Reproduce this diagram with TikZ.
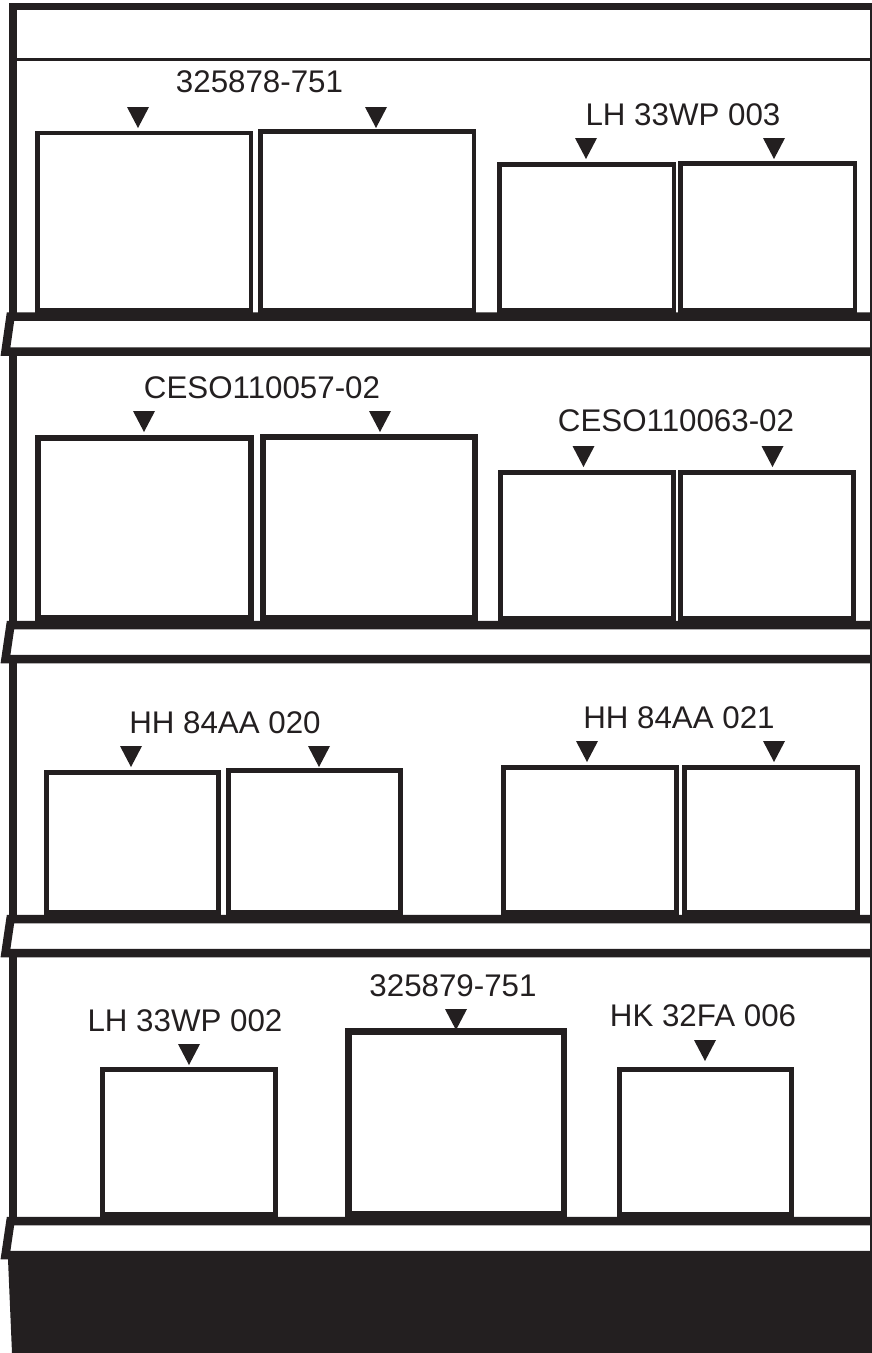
\documentclass[tikz,border=0pt]{standalone}
\usepackage{fontspec}
\setmainfont{Liberation Sans}
\definecolor{ink}{RGB}{35,31,32}
\tikzset{
  shelfline/.style={draw=ink, line width=8.5pt, line join=miter},
  frameline/.style={draw=ink, line width=8pt},
  boxline/.style={draw=ink},
  lbl/.style={anchor=base, inner sep=0pt, text=ink, font=\fontsize{31.3}{36}\selectfont},
  tri/.pic={\fill[ink] (-11,0) -- (11,0) -- (0,21) -- cycle;}
}
\newcommand{\shelfedge}[2]{\draw[shelfline] (872,#1) -- (10.5,#1) -- (5.5,#2) -- (872,#2);}
% box: x1, ytop (outer), x2, ybottom (outer), line width
\newcommand{\bx}[5]{\draw[boxline, line width=#5pt] ({#1+#5/2},{#2+#5/2}) rectangle ({#3-#5/2},{#4-#5/2});}
\begin{document}
\begin{tikzpicture}[x=1pt,y=-1pt]
\useasboundingbox (0,0) rectangle (872,1353);
\fill[white] (0,0) rectangle (872,1353);
% frame
\draw[ink, line width=7.5pt] (9,6.5) -- (872,6.5);
\draw[frameline] (13,3) -- (13,316.5);
\draw[frameline] (13,351.5) -- (13,625);
\draw[frameline] (13,659) -- (13,919);
\draw[frameline] (13,953) -- (13,1221);
\draw[ink, line width=2pt] (871,3) -- (871,1251);
\draw[ink, line width=3pt] (13,59.5) -- (872,59.5);
% shelves
\shelfedge{316.5}{351.5}
\shelfedge{625}{659}
\shelfedge{919}{953}
\shelfedge{1221}{1255}
% base
\fill[ink] (4,1251) -- (872,1251) -- (872,1353) -- (12,1353) -- (8,1259) -- cycle;

% shelf 1 boxes
\bx{35}{130.5}{253}{312.5}{4.5}
\bx{258}{129}{476}{312.5}{4.5}
\bx{497}{162}{676}{312.5}{4.5}
\bx{678}{161}{857}{312.5}{4.5}
% shelf 2 boxes
\bx{35}{435}{254}{621}{6}
\bx{260}{434}{478}{621}{6}
\bx{498}{470}{676}{621}{5}
\bx{678}{470}{856}{621}{5}
% shelf 3 boxes
\bx{44}{770}{221}{915}{5}
\bx{226}{768}{403}{915}{5}
\bx{501}{765}{679}{915}{5}
\bx{682}{765}{860}{915}{5}
% shelf 4 boxes
\bx{100}{1067}{278}{1217}{5}
\bx{345}{1028}{567}{1217}{6.5}
\bx{617}{1067}{794}{1217}{5}

% markers
\pic at (138,107) {tri};
\pic at (376,107) {tri};
\pic at (586,138) {tri};
\pic at (774,138) {tri};
\pic at (144,411) {tri};
\pic at (380,411) {tri};
\pic at (583.5,446) {tri};
\pic at (772.5,446) {tri};
\pic at (131,746) {tri};
\pic at (319,746) {tri};
\pic at (587,741) {tri};
\pic at (774,741) {tri};
\pic at (189,1044) {tri};
\pic at (456,1009) {tri};
\pic at (705,1040) {tri};

% labels
\node[lbl] (l1) at (259.5,92) {325878-751};
\node[lbl] (l2) at (683,125) {LH 33WP 003};
\node[lbl] (l3) at (262,398) {CESO110057-02};
\node[lbl] (l4) at (676,431) {CESO110063-02};
\node[lbl] (l5) at (225,733) {HH 84AA 020};
\node[lbl] (l6) at (679,728) {HH 84AA 021};
\node[lbl] (l7) at (185,1031) {LH 33WP 002};
\node[lbl] (l8) at (453,996) {325879-751};
\node[lbl] (l9) at (703,1026) {HK 32FA 006};
\end{tikzpicture}
\end{document}
